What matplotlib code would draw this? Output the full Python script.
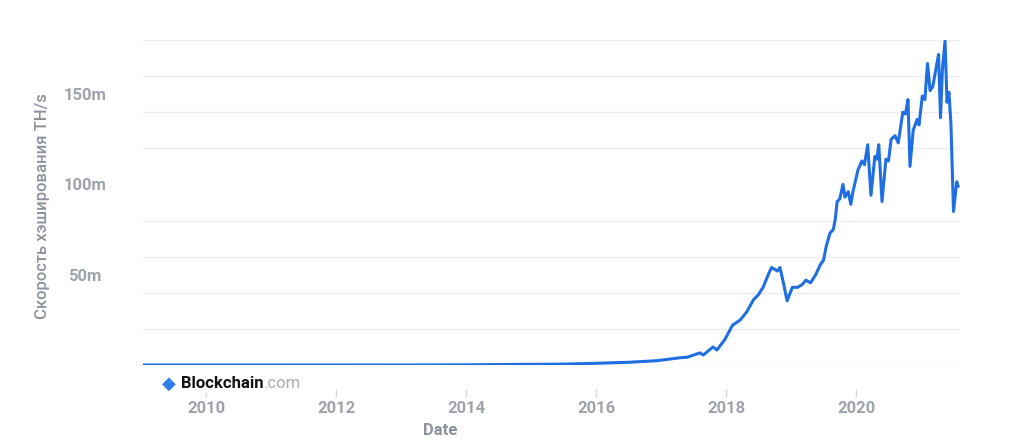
import matplotlib
matplotlib.use('Agg')
import matplotlib.pyplot as plt
from matplotlib.ticker import FixedLocator, FixedFormatter

# ---------------------------------------------------------------------------
# Data (hashrate in miljoen TH/s)
# ---------------------------------------------------------------------------
years = [2009.03, 2010.0, 2011.0, 2012.0, 2013.0, 2013.6, 2014.0, 2014.5,
         2015.1, 2015.5, 2015.95, 2016.5, 2016.94, 2017.29, 2017.4, 2017.6,
         2017.65, 2017.8, 2017.86, 2017.98, 2018.1, 2018.22, 2018.32, 2018.42,
         2018.5, 2018.57, 2018.65, 2018.7, 2018.75, 2018.79, 2018.83, 2018.88,
         2018.94, 2019.02, 2019.1, 2019.17, 2019.23, 2019.3, 2019.38, 2019.45,
         2019.5, 2019.54, 2019.6, 2019.65, 2019.68, 2019.71, 2019.75, 2019.8,
         2019.83, 2019.88, 2019.92, 2019.95, 2020.03, 2020.09, 2020.13, 2020.18,
         2020.23, 2020.29, 2020.32, 2020.35, 2020.40, 2020.46, 2020.5, 2020.54,
         2020.6, 2020.65, 2020.72, 2020.76, 2020.8, 2020.83, 2020.88, 2020.94,
         2020.97, 2021.02, 2021.06, 2021.1, 2021.14, 2021.18, 2021.24, 2021.27,
         2021.3, 2021.33, 2021.37, 2021.4, 2021.43, 2021.46, 2021.5, 2021.55,
         2021.57]
hashrate = [0, 0, 0, 0.01, 0.02, 0.05, 0.1, 0.25,
            0.4, 0.5, 0.9, 1.5, 2.4, 4.0, 4.3, 6.7,
            5.5, 10, 8.3, 14, 22, 25, 29.5, 36,
            39, 43, 50, 54, 53, 52, 54, 46,
            35.5, 43, 43, 44.5, 47, 45.5, 50, 55.5,
            58, 65.5, 73, 75, 80.5, 90.5, 92, 100,
            93, 96, 89, 95.5, 108, 113, 111, 122,
            94, 115.5, 114, 122, 90.5, 114, 113, 125,
            127, 123, 140, 139, 147, 110, 130, 136,
            133, 149, 147, 167, 152, 154, 166, 172,
            137, 164, 179.5, 145.5, 151, 134, 85, 101.5,
            99]

x_ticks = [2010, 2012, 2014, 2016, 2018, 2020]
x_labels = ['2010', '2012', '2014', '2016', '2018', '2020']
y_ticks = [50, 100, 150]
y_labels = ['50m', '100m', '150m']
grid_levels = [0, 20, 40, 60, 80, 100, 120, 140, 160, 180]

# ---------------------------------------------------------------------------
# Grafiek
# ---------------------------------------------------------------------------
line_color = '#1f6fe2'
label_grey = '#9ea3ab'

fig = plt.figure(figsize=(10.24, 4.47), dpi=100)
ax = fig.add_axes([143 / 1024, 1 - 365 / 447, 817 / 1024, 325 / 447])

ax.plot(years, hashrate, color=line_color, linewidth=2.2, solid_joinstyle='round', zorder=3)

ax.set_xlim(2009.03, 2021.6)
ax.set_ylim(0, 180)

# rasterlijnen
ax.yaxis.set_minor_locator(FixedLocator(grid_levels))
ax.grid(True, which='minor', axis='y', color='#ededed', linewidth=1)
ax.tick_params(axis='y', which='minor', length=0)

ax.yaxis.set_major_locator(FixedLocator(y_ticks))
ax.yaxis.set_major_formatter(FixedFormatter(y_labels))
ax.tick_params(axis='y', which='major', length=0, pad=42, labelsize=12,
               labelcolor=label_grey)
for lbl in ax.get_yticklabels():
    lbl.set_horizontalalignment('center')
    lbl.set_fontweight('bold')
    lbl.set_family('Roboto')

ax.xaxis.set_major_locator(FixedLocator(x_ticks))
ax.xaxis.set_major_formatter(FixedFormatter(x_labels))
ax.spines['bottom'].set_position(('outward', 17))
for side in ['top', 'right', 'left', 'bottom']:
    ax.spines[side].set_visible(False)
ax.tick_params(axis='x', length=6, width=1, color='#d4d6da', pad=3,
               labelsize=12, labelcolor=label_grey)
for lbl in ax.get_xticklabels():
    lbl.set_fontweight('bold')
    lbl.set_family('Roboto')

ax.set_ylabel('Скорость хэширования TH/s', fontsize=12, color='#8c929b',
              family='Roboto', fontweight='medium')
ax.yaxis.set_label_coords(-0.114, 0.49)
ax.set_xlabel('Date', fontsize=12, color='#8c929b', family='Roboto', fontweight='bold')
ax.xaxis.set_label_coords(0.3635, -0.203)
ax.xaxis.label.set_verticalalignment('center')

# Blockchain.com logo
fig.text(169 / 1024, 1 - 384 / 447, '◆', color='#2f7fe6', fontsize=13,
         ha='center', va='center', family='DejaVu Sans', zorder=5)
brand = fig.text(181 / 1024, 1 - 384 / 447, 'Blockchain', color='#121212', fontsize=12,
                 fontweight='bold', family='Roboto', ha='left', va='center', zorder=5,
                 bbox=dict(facecolor='white', edgecolor='none', pad=1))
fig.canvas.draw()
bb = brand.get_window_extent(renderer=fig.canvas.get_renderer())
fig.text(bb.x1 / 1024, 1 - 384 / 447, '.com', color='#a8adb5', fontsize=12,
         family='Roboto', ha='left', va='center', zorder=5)

plt.savefig('out.png', dpi=100, facecolor='white')
